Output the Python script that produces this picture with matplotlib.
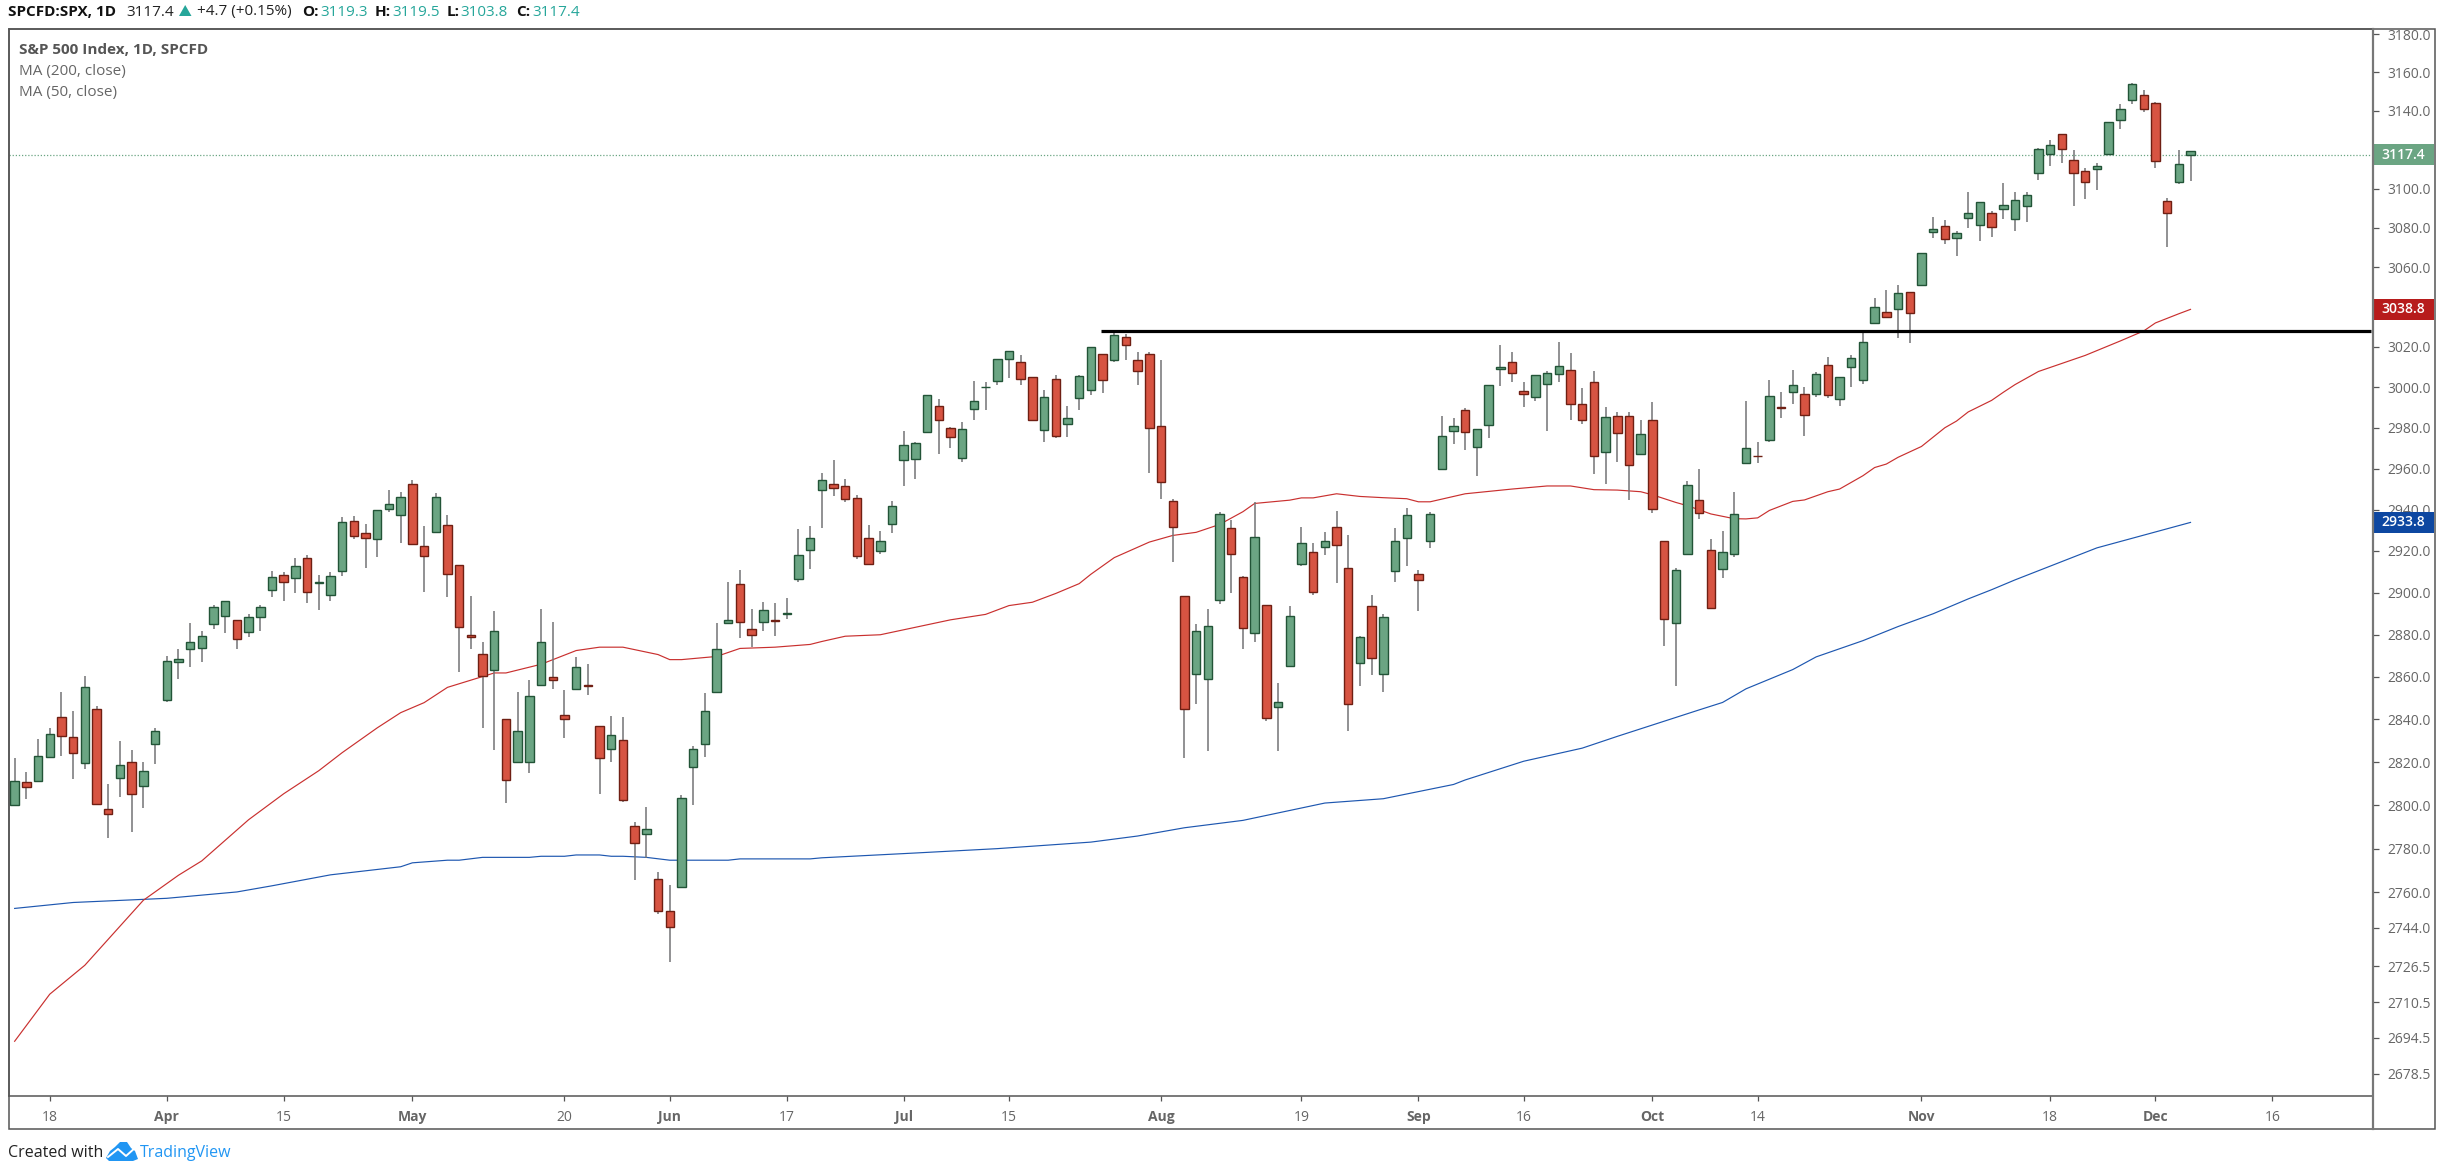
import numpy as np
import matplotlib
matplotlib.use('Agg')
import matplotlib.pyplot as plt
from matplotlib.patches import Rectangle, Polygon

plt.rcParams['font.family'] = ['Open Sans', 'DejaVu Sans']

W, H = 2443, 1175

# candles, one row per ten sessions
opens = [2800, 2810.6, 2811, 2822.6, 2841, 2831.6, 2819.6, 2845, 2798.3, 2812.6,
         2820, 2809, 2828.5, 2849, 2867.2, 2873.2, 2873.7, 2885, 2888.6, 2887,
         2881.4, 2888.3, 2901.1, 2908.4, 2907, 2916.4, 2904.5, 2899, 2910.2, 2934.6,
         2928.9, 2925.8, 2940.3, 2937.3, 2952.3, 2922.3, 2929.3, 2932.6, 2913.4, 2879.8,
         2870.9, 2863, 2840.3, 2820.2, 2820.2, 2856, 2859.8, 2842, 2854.2, 2856,
         2836.8, 2826, 2830.3, 2790.3, 2786.7, 2766, 2751.4, 2762.5, 2817.9, 2828.2,
         2853, 2885.5, 2904, 2882.8, 2886.2, 2886.7, 2889.7, 2906.3, 2920.5, 2949.4,
         2952.4, 2951.3, 2945.8, 2926.5, 2919.8, 2933, 2964, 2964.5, 2978, 2990.6,
         2980, 2965.2, 2989, 3000, 3003.3, 3014, 3012.3, 3005, 2979, 3004,
         2981.6, 2994.7, 2998.5, 3016.5, 3013.5, 3024.8, 3013.5, 3016.6, 2980.8, 2944,
         2898.3, 2861.4, 2859, 2896.4, 2931, 2907.4, 2880.6, 2894, 2845.8, 2864.9,
         2913.7, 2919.5, 2922, 2931.6, 2911.6, 2866.5, 2893.6, 2861.4, 2910.2, 2926.4,
         2909, 2924.6, 2960, 2978.6, 2988.8, 2970.7, 2981.2, 3009, 3012.4, 2998.2,
         2995.2, 3001.7, 3006.6, 3008.6, 2991.7, 3002.5, 2968, 2985.8, 2985.9, 2966.9,
         2983.8, 2925, 2885.6, 2918.7, 2944.7, 2920.6, 2911.4, 2918.7, 2962.7, 2966.3,
         2973.8, 2990, 2997.7, 2996.7, 2996.7, 3010.8, 2994, 3010, 3003.4, 3031.8,
         3037.4, 3039, 3047.7, 3050.9, 3077.9, 3081.1, 3074.9, 3085, 3081.4, 3087.4,
         3089.6, 3084.4, 3091, 3108, 3117.6, 3127.8, 3114.9, 3109.2, 3110, 3117.6,
         3135.4, 3145.9, 3148, 3144, 3093.8, 3103.6, 3117.4]
highs = [2821.8, 2815.6, 2831, 2835.8, 2852.9, 2844, 2860.5, 2846.3, 2810, 2830,
         2825.6, 2820, 2836, 2870, 2873, 2885.4, 2881.7, 2894, 2896, 2887,
         2889.8, 2894.3, 2910.5, 2910, 2916.5, 2918, 2908.4, 2910, 2936.4, 2936.8,
         2933.2, 2939.8, 2949.4, 2948.5, 2954.4, 2932, 2947.9, 2937.5, 2913.4, 2898.5,
         2876.4, 2891.1, 2840.3, 2852.8, 2858.5, 2892.4, 2885.9, 2853.9, 2869.4, 2865.9,
         2836.8, 2841.6, 2841.1, 2792.2, 2799, 2769.3, 2763.3, 2804.7, 2827.5, 2852.2,
         2885.4, 2905, 2910.8, 2892, 2895.6, 2895, 2897.2, 2930.7, 2932, 2958,
         2964, 2955, 2947, 2932.6, 2929.7, 2944, 2978.4, 2973, 2996, 2994,
         2980.6, 2982.8, 3003, 3002.5, 3014, 3018, 3015.8, 3005, 2998.6, 3006,
         2990.8, 3006, 3019.8, 3016.5, 3027, 3026.4, 3017.4, 3017.4, 3013.6, 2945,
         2898.3, 2885, 2892, 2938.7, 2935, 2908, 2943.5, 2894, 2856.9, 2893.7,
         2931.8, 2923.9, 2929.3, 2939.3, 2927.6, 2879.4, 2898.9, 2890, 2931, 2941,
         2910.9, 2938.7, 2986, 2985, 2989.5, 2979.6, 3001, 3021.2, 3017.7, 3002.6,
         3006, 3008, 3022.4, 3016.9, 2999.5, 3008, 2990.2, 2987.8, 2987.8, 2983.8,
         2992.7, 2925, 2912, 2953.8, 2960, 2925.6, 2929.8, 2948.5, 2993, 2973,
         3003.8, 2997.7, 3008.6, 3000, 3007.5, 3014.8, 3005, 3015.8, 3026.9, 3044.5,
         3048.4, 3050.9, 3047.7, 3067, 3085.5, 3084, 3078.6, 3098.5, 3093.2, 3088.7,
         3103, 3098.5, 3098.5, 3120.8, 3124.9, 3127.8, 3119.7, 3110.6, 3113.1, 3134.4,
         3143.6, 3154.7, 3150.9, 3144.8, 3095.2, 3119.7, 3119.5]
lows = [2800, 2803, 2811, 2821.8, 2823, 2812, 2817, 2800.5, 2784.8, 2803.7,
        2787.5, 2798.5, 2819, 2848, 2859, 2864.6, 2867, 2882.5, 2880.6, 2873,
        2879, 2881.7, 2897.9, 2896, 2900, 2895, 2891.6, 2896, 2908, 2925.8,
        2912, 2917.3, 2939, 2924, 2923.6, 2900.5, 2929.3, 2897.7, 2862.3, 2873,
        2835.8, 2825.5, 2800.8, 2820.2, 2815, 2856, 2854.2, 2831.2, 2854.2, 2851.2,
        2805, 2820.2, 2801.6, 2765.7, 2775.9, 2750, 2728.3, 2762.5, 2800.3, 2822.4,
        2853, 2885.5, 2878.3, 2874, 2881.8, 2879.5, 2887.2, 2905, 2911.3, 2931,
        2946.6, 2943.5, 2916.3, 2913.1, 2918.7, 2928.5, 2951.6, 2955, 2978, 2967,
        2970, 2963, 2984, 2988.7, 3001.3, 3004.8, 3001, 2984, 2973, 2975.2,
        2975.5, 2988.5, 2996.4, 2997, 3012.4, 3013.7, 3001, 2957.7, 2945, 2914.5,
        2821.7, 2847, 2825.3, 2894.4, 2900, 2873, 2876.4, 2839.4, 2825.3, 2864.9,
        2913, 2899, 2918, 2904.5, 2834.6, 2855.7, 2860.6, 2853, 2905, 2913,
        2891.2, 2921.4, 2960, 2972.2, 2969.3, 2956.3, 2974.9, 3000.8, 3002.5, 2990,
        2993.2, 2978.5, 3002.5, 2984, 2982, 2957.4, 2952.7, 2963, 2944.8, 2966.9,
        2938.2, 2874.6, 2855.8, 2918.7, 2935.3, 2892.6, 2906.9, 2917.1, 2962.7, 2962.5,
        2972.8, 2984.6, 2991.6, 2976, 2995, 2994.8, 2990.7, 3000, 3001.4, 3031.8,
        3034.5, 3024.7, 3022, 3050.9, 3074.9, 3071.9, 3065.9, 3079.8, 3073.4, 3075.2,
        3084.4, 3078.5, 3082.9, 3104.3, 3111.8, 3113, 3091.3, 3094.5, 3099.1, 3117.3,
        3130.7, 3143.6, 3139.2, 3110.7, 3070.3, 3102.4, 3103.8]
closes = [2811.2, 2808.4, 2822.9, 2833.3, 2832.4, 2824.1, 2855, 2800.5, 2795.8, 2818.7,
          2805, 2816, 2834.6, 2867.6, 2868.6, 2876.4, 2879.2, 2893.2, 2896, 2878,
          2888.2, 2892.9, 2907.4, 2905, 2912.9, 2900.5, 2905, 2908, 2934, 2927.3,
          2926.4, 2939.8, 2942.9, 2946, 2923.6, 2917.4, 2945.9, 2908.8, 2883.6, 2878.8,
          2860.2, 2881.6, 2811.6, 2834.4, 2851, 2876.3, 2858.4, 2840.2, 2864.4, 2855.8,
          2822.1, 2832.5, 2802.2, 2782.5, 2789, 2751.7, 2744.3, 2803.5, 2826.2, 2843.7,
          2873.2, 2886.8, 2885.9, 2879.7, 2891.6, 2886.4, 2890.2, 2918, 2926.4, 2954.4,
          2950.5, 2945.2, 2917.4, 2913.9, 2925, 2941.8, 2971.5, 2972.4, 2996, 2983.9,
          2975.5, 2979.4, 2993, 3000.2, 3014, 3018, 3004, 2984, 2995, 2976,
          2985, 3005.5, 3019.8, 3003.5, 3026, 3020.8, 3007.8, 2979.8, 2953.3, 2931.8,
          2844.6, 2881.6, 2884.3, 2938.1, 2918.7, 2883.2, 2926.8, 2840.5, 2848.1, 2888.9,
          2923.7, 2900.5, 2925, 2922.7, 2847, 2878.7, 2868.8, 2888.2, 2925, 2937.4,
          2906, 2938, 2976, 2980.8, 2978, 2979.5, 3001, 3010, 3007, 2996.7,
          3006, 3007, 3010.6, 2991.7, 2983.6, 2966.3, 2985.1, 2977.4, 2961.5, 2976.9,
          2940.2, 2887.5, 2911, 2951.9, 2938.4, 2892.6, 2919.5, 2938, 2970.3, 2966,
          2995.7, 2989.8, 3001.1, 2986.2, 3006.7, 2996, 3005, 3014.7, 3022.6, 3040,
          3035, 3046.8, 3037, 3067, 3079.2, 3074.4, 3077.3, 3087.4, 3093.2, 3080.5,
          3091.8, 3094.4, 3096.9, 3120.5, 3122.6, 3120.3, 3108.1, 3103.4, 3111.8, 3134.4,
          3140.9, 3153.8, 3141.2, 3114.1, 3087.5, 3112.8, 3119.3]

# moving averages, read at the sessions in the *_at lists
ma50_at = [0, 3, 6, 11, 14, 16, 20, 23, 26, 28, 31, 33, 35, 37, 41, 42, 45, 48, 50, 52,
           55, 56, 57, 60, 62, 65, 68, 69, 71, 74, 80, 83, 85, 87, 89, 91, 92, 94, 97, 99,
           101, 103, 105, 106, 109, 110, 111, 113, 115, 117, 119, 120, 121, 124, 128, 131,
           133, 135, 137, 139, 140, 142, 143, 145, 147, 148, 149, 150, 152, 153, 155, 156,
           158, 159, 160, 161, 163, 165, 166, 167, 169, 170, 171, 173, 176, 177, 180, 182,
           183, 185, 186]
ma50 = [2693, 2714, 2727, 2756.4, 2767.8, 2774.4, 2793.3, 2805.3, 2816, 2824.4, 2836, 2843.1,
        2847.8, 2855, 2861.8, 2861.8, 2865.9, 2872.4, 2874, 2874,
        2870.5, 2868.1, 2868.1, 2869.6, 2873.4, 2874, 2875.3, 2876.7, 2879.2, 2879.9, 2887, 2889.6,
        2893.8, 2895.4, 2899.6, 2904.3, 2908.8, 2916.8, 2924.3, 2927.5,
        2929, 2932.8, 2939, 2943, 2944.6, 2945.7, 2945.7, 2947.7, 2946.4, 2945.8, 2945.3, 2943.8,
        2943.8, 2947.7, 2950, 2951.5,
        2951.5, 2949.7, 2949.5, 2948.7, 2947.2, 2943.5, 2941.9, 2937.9, 2935.6, 2935.5, 2936,
        2939.6, 2944, 2944.7, 2948.7, 2950,
        2956.5, 2960.5, 2962.2, 2965.5, 2970.8, 2980, 2983.3, 2987.8, 2993.5, 2997.5, 3001.3, 3007.8,
        3013.8, 3015.8, 3023, 3028,
        3032, 3036.6, 3038.8]
ma200_at = [0, 5, 13, 19, 22, 27, 33, 34, 37, 38, 40, 44, 45, 47, 48, 50, 51, 52, 54, 56,
            61, 62, 68, 69, 77, 84, 92, 96, 100, 105, 112, 117, 123, 124, 129, 134, 137,
            144, 146, 148, 152, 154, 158, 161, 164, 167, 169, 171, 178, 186]
ma200 = [2752.7, 2755.4, 2757.3, 2760.2, 2763, 2768, 2771.7, 2773.5, 2774.7, 2774.7, 2776, 2776,
         2776.5, 2776.5, 2777.1, 2777.1, 2776.5, 2776.5, 2776, 2774.7,
         2774.7, 2775.3, 2775.3, 2775.8, 2778, 2780, 2783, 2785.8, 2789.6, 2793, 2801, 2803, 2809.6,
         2811.7, 2820.4, 2826.5, 2832,
         2844.4, 2847.9, 2854.3, 2863.4, 2869.4, 2877.1, 2883.8, 2889.9, 2897, 2901.4, 2906.1,
         2921.5, 2933.8]

resistance = 3027.8
last_price = 3117.4

y_ticks = [3180, 3160, 3140, 3120, 3100, 3080, 3060, 3040, 3020, 3000, 2980, 2960, 2940, 2920,
           2900, 2880, 2860, 2840, 2820, 2800, 2780, 2760, 2744, 2726.5, 2710.5, 2694.5, 2678.5]
# these two sit under the price tags in the original
y_hidden = [3120, 3040]
x_tick_at = [3, 13, 23, 34, 47, 56, 66, 76, 85, 98, 110, 120, 129, 140, 149, 163, 174, 183, 193]
x_tick_labels = ['18', 'Apr', '15', 'May', '20', 'Jun', '17', 'Jul', '15', 'Aug', '19', 'Sep',
                 '16', 'Oct', '14', 'Nov', '18', 'Dec', '16']

UP, UP_EDGE = '#6ba583', '#225437'
DOWN, DOWN_EDGE = '#d75442', '#6f1f13'
WICK = '#737375'
GREY = '#666666'

fig = plt.figure(figsize=(W / 100, H / 100), dpi=100, facecolor='white')

# main pane, pixel box of the chart area
L, R, T, B = 8.5, 2373, 28.5, 1095.5
ax = fig.add_axes([L / W, 1 - B / H, (R - L) / W, (B - T) / H])
ax.set_yscale('log')
ax.set_xlim(-0.525, 201.6)
ax.set_ylim(2669, 3183)

o, h, l, c = map(np.array, (opens, highs, lows, closes))
idx = np.arange(len(o))
up = c >= o

ax.axhline(last_price, color=UP, lw=0.9, ls=(0, (1, 1.5)), zorder=1)
ax.plot(ma200_at, ma200, color='#1e57b0', lw=0.85, zorder=2)
ax.plot(ma50_at, ma50, color='#c9302f', lw=0.85, zorder=2)
ax.vlines(idx, l, h, color=WICK, lw=1.1, zorder=3)
ax.bar(idx[up], (c - o)[up], bottom=o[up], width=0.72, color=UP, edgecolor=UP_EDGE, lw=1.0, zorder=4)
ax.bar(idx[~up], (o - c)[~up], bottom=c[~up], width=0.72, color=DOWN, edgecolor=DOWN_EDGE, lw=1.0, zorder=4)
ax.plot([92.9, 201.4], [resistance, resistance], color='black', lw=2.3, solid_capstyle='butt', zorder=5)

ax.yaxis.tick_right()
ax.set_yticks(y_ticks)
ax.set_yticklabels(['' if v in y_hidden else f'{v:.1f}' for v in y_ticks], fontsize=10, color=GREY)
ax.minorticks_off()
ax.tick_params(axis='y', length=4.5, width=0.9, color='#555555', pad=6)
ax.set_xticks(x_tick_at)
ax.set_xticklabels(x_tick_labels, fontsize=10, color=GREY)
for lab in ax.get_xticklabels():
    if lab.get_text().isalpha():
        lab.set_fontweight('bold')
ax.tick_params(axis='x', length=3.5, width=0.9, color='#555555', pad=7)
for s in ax.spines.values():
    s.set_color('#555555')
    s.set_linewidth(1.1)

# overlay in pixels for frame, price tags, header and footer
ov = fig.add_axes([0, 0, 1, 1], facecolor='none')
ov.set_xlim(0, W)
ov.set_ylim(H, 0)
ov.axis('off')
ov.add_patch(Rectangle((L, T), 2434.5 - L, 1128.5 - T, fill=False, ec='#555555', lw=1.1))
ov.plot([R, R], [T, 1128.5], color='#777777', lw=1.6)

fig.canvas.draw()
tags = [(3117.4, UP), (3038.8, '#b71c1c'), (2933.8, '#0d47a1')]
for val, col in tags:
    py = H - ax.transData.transform((0, val))[1]
    ov.add_patch(Rectangle((R, py - 10.5), 2434 - R, 21, color=col, lw=0))
    ov.text(2403.5, py, f'{val:.1f}', color='white', fontsize=10, ha='center', va='center', fontweight='semibold')


def txt(x, y, s, **kw):
    kw.setdefault('fontsize', 11)
    kw.setdefault('va', 'center')
    ov.text(x, y, s, **kw)


TEAL = '#26a69a'
txt(8, 12, 'SPCFD:SPX, 1D', fontweight='bold', color='#111111')
txt(126, 12, '3117.4', color='#222222')
ov.add_patch(Polygon([(179, 16), (191.5, 16), (185.2, 5)], color=TEAL, lw=0))
txt(197, 12, '+4.7 (+0.15%)', color='#222222')
hdr = [(302, 'O:', 320, '3119.3'), (375, 'H:', 392, '3119.5'), (447, 'L:', 460, '3103.8'), (516, 'C:', 532, '3117.4')]
for x1, a, x2, b in hdr:
    txt(x1, 12, a, fontweight='bold', color='#111111')
    txt(x2, 12, b, color=TEAL)

txt(19, 50, 'S&P 500 Index, 1D, SPCFD', fontweight='bold', color='#555555')
txt(19, 71.5, 'MA (200, close)', color='#666666')
txt(19, 92.5, 'MA (50, close)', color='#666666')

txt(8, 1153, 'Created with', color='#222222', fontsize=11.5)
txt(140, 1153, 'TradingView', color='#2196f3', fontsize=11.5)
cloud = [(106, 1158), (110, 1151), (115, 1147), (120, 1142), (127, 1142), (131, 1148), (135, 1151),
         (138, 1159), (133, 1161), (109, 1161)]
ov.add_patch(Polygon(cloud, color='#2196f3', lw=0))
ov.plot([108, 118, 126, 136], [1157, 1149, 1156, 1147], color='white', lw=1.4)

fig.savefig('out.png', dpi=100, facecolor='white')
